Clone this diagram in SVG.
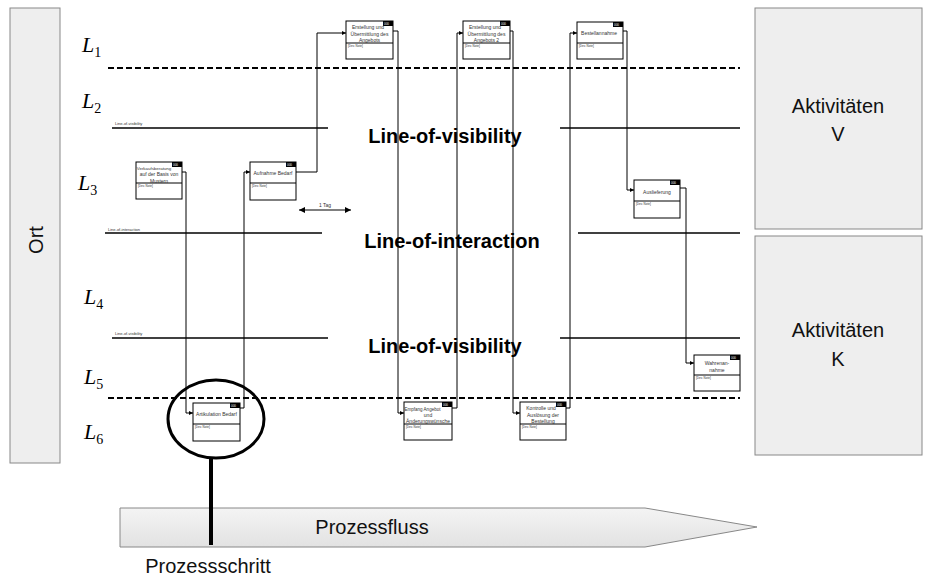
<svg xmlns="http://www.w3.org/2000/svg" width="934" height="585" viewBox="0 0 934 585">
<style>
.panel{fill:#eeeeee;stroke:#888;stroke-width:1}
.big{font-family:"Liberation Sans",Arial,sans-serif;font-size:20px;fill:#111}
.lbl{font-family:"Liberation Sans",Arial,sans-serif;font-size:20px;font-weight:bold;fill:#000}
.tiny{font-family:"Liberation Sans",Arial,sans-serif;font-size:4px;fill:#333}
.L{font-family:"Liberation Serif","Times New Roman",serif;font-size:22px;font-style:italic;fill:#000}
.sub{font-family:"Liberation Serif","Times New Roman",serif;font-size:14px;font-style:normal;fill:#000}
.box{fill:#fff;stroke:#000;stroke-width:1}
.bt{font-family:"Liberation Sans",Arial,sans-serif;font-size:5px;fill:#333;text-anchor:middle}
.note{font-family:"Liberation Sans",Arial,sans-serif;font-size:3px;fill:#333}
.tag{font-family:"Liberation Sans",Arial,sans-serif;font-size:3px;fill:#fff}
.conn{fill:none;stroke:#000;stroke-width:1}
.hl{stroke:#000;stroke-width:1.5}
.dash{stroke:#000;stroke-width:2;stroke-dasharray:6,3}
</style>
<defs>
<marker id="ah" markerWidth="4" markerHeight="4" refX="4" refY="2" orient="auto" markerUnits="userSpaceOnUse">
<path d="M0,0 L4,2 L0,4 z" fill="#000"/>
</marker>
<marker id="ah2" markerWidth="6" markerHeight="6" refX="6" refY="3" orient="auto-start-reverse" markerUnits="userSpaceOnUse">
<path d="M0,0 L6,3 L0,6 z" fill="#000"/>
</marker>
<linearGradient id="fl" x1="0" y1="0" x2="0" y2="1">
<stop offset="0" stop-color="#f4f4f4"/>
<stop offset="1" stop-color="#e2e2e2"/>
</linearGradient>
</defs>

<g id="ort">
<rect class="panel" x="10" y="8" width="50" height="455"/>
<text class="big" transform="translate(43,240) rotate(-90)" text-anchor="middle">Ort</text>
</g>
<g id="aktivitaeten-v">
<rect class="panel" x="755" y="8" width="167" height="221"/>
<text class="big" x="838" y="113" text-anchor="middle">Aktivitäten</text>
<text class="big" x="838" y="141" text-anchor="middle">V</text>
</g>
<g id="aktivitaeten-k">
<rect class="panel" x="755" y="236" width="167" height="219"/>
<text class="big" x="838" y="337" text-anchor="middle">Aktivitäten</text>
<text class="big" x="838" y="366" text-anchor="middle">K</text>
</g>

<g id="levels">
<text class="L" x="82" y="52">L<tspan class="sub" dy="5">1</tspan></text>
<text class="L" x="82" y="108">L<tspan class="sub" dy="5">2</tspan></text>
<text class="L" x="78" y="190">L<tspan class="sub" dy="5">3</tspan></text>
<text class="L" x="84" y="304">L<tspan class="sub" dy="5">4</tspan></text>
<text class="L" x="84" y="384">L<tspan class="sub" dy="5">5</tspan></text>
<text class="L" x="84" y="439">L<tspan class="sub" dy="5">6</tspan></text>
</g>

<g id="lines">
<line class="dash" x1="108" y1="68" x2="740" y2="68"/>
<line class="dash" x1="108" y1="398" x2="740" y2="398"/>
<line class="hl" x1="112" y1="128" x2="328" y2="128"/>
<line class="hl" x1="560" y1="128" x2="740" y2="128"/>
<text class="tiny" x="115" y="125">Line-of-visibility</text>
<text class="lbl" x="445" y="143" text-anchor="middle">Line-of-visibility</text>
<line class="hl" x1="105" y1="233" x2="322" y2="233"/>
<line class="hl" x1="578" y1="233" x2="740" y2="233"/>
<text class="tiny" x="108" y="231">Line-of-interaction</text>
<text class="lbl" x="452" y="248" text-anchor="middle">Line-of-interaction</text>
<line class="hl" x1="112" y1="338" x2="328" y2="338"/>
<line class="hl" x1="560" y1="338" x2="740" y2="338"/>
<text class="tiny" x="115" y="335">Line-of-visibility</text>
<text class="lbl" x="445" y="353" text-anchor="middle">Line-of-visibility</text>
</g>

<g id="prozessfluss">
<polygon points="120,508 645,508 757,527 645,547 120,547" fill="url(#fl)" stroke="#888" stroke-width="1"/>
<text class="big" x="372" y="534" text-anchor="middle">Prozessfluss</text>
</g>

<g id="connectors">
<path class="conn" d="M182,172 H186 V413 H193" marker-end="url(#ah)"/>
<path class="conn" d="M240,408 H244 V172 H250" marker-end="url(#ah)"/>
<path class="conn" d="M296,172 H317 V33 H346" marker-end="url(#ah)"/>
<path class="conn" d="M393,31 H398 V413 H404" marker-end="url(#ah)"/>
<path class="conn" d="M452,408 H457 V33 H463" marker-end="url(#ah)"/>
<path class="conn" d="M510,31 H513 V413 H520" marker-end="url(#ah)"/>
<path class="conn" d="M566,408 H570 V33 H577" marker-end="url(#ah)"/>
<path class="conn" d="M623,31 H627 V190 H634" marker-end="url(#ah)"/>
<path class="conn" d="M680,188 H686 V363 H694" marker-end="url(#ah)"/>
<line class="conn" x1="299" y1="210" x2="351" y2="210" marker-start="url(#ah2)" marker-end="url(#ah2)"/>
<text class="bt" x="325" y="207">1 Tag</text>
</g>

<g id="verkaufsberatung">
<rect class="box" x="136" y="162" width="46" height="37"/>
<line class="conn" x1="136" y1="183" x2="182" y2="183"/>
<rect x="172" y="162" width="10" height="5" fill="#000"/>
<text class="tag" x="173" y="166">000</text>
<text class="bt" x="154" y="169.5" style="font-size:4.4px">Verkaufsberatung</text>
<text class="bt" x="159" y="176">auf der Basis von</text>
<text class="bt" x="159" y="182.5">Mustern</text>
<text class="note" x="138" y="187">[Dev. Note]</text>
</g>
<g id="aufnahme-bedarf">
<rect class="box" x="250" y="162" width="46" height="38"/>
<line class="conn" x1="250" y1="183" x2="296" y2="183"/>
<rect x="286" y="162" width="10" height="5" fill="#000"/>
<text class="tag" x="287" y="166">000</text>
<text class="bt" x="273" y="175">Aufnahme Bedarf</text>
<text class="note" x="252" y="187">[Dev. Note]</text>
</g>
<g id="erstellung-angebot">
<rect class="box" x="346" y="21" width="47" height="38"/>
<line class="conn" x1="346" y1="43" x2="393" y2="43"/>
<rect x="383" y="21" width="10" height="5" fill="#000"/>
<text class="tag" x="384" y="25">000</text>
<text class="bt" x="368" y="29">Erstellung und</text>
<text class="bt" x="369.5" y="35.5">Übermittlung des</text>
<text class="bt" x="369.5" y="42">Angebots</text>
<text class="note" x="348" y="47">[Dev. Note]</text>
</g>
<g id="erstellung-angebot-2">
<rect class="box" x="463" y="21" width="47" height="38"/>
<line class="conn" x1="463" y1="43" x2="510" y2="43"/>
<rect x="500" y="21" width="10" height="5" fill="#000"/>
<text class="tag" x="501" y="25">000</text>
<text class="bt" x="485" y="29">Erstellung und</text>
<text class="bt" x="486.5" y="35.5">Übermittlung des</text>
<text class="bt" x="486.5" y="42">Angebots 2</text>
<text class="note" x="465" y="47">[Dev. Note]</text>
</g>
<g id="bestellannahme">
<rect class="box" x="577" y="22" width="46" height="37"/>
<line class="conn" x1="577" y1="43" x2="623" y2="43"/>
<rect x="613" y="22" width="10" height="5" fill="#000"/>
<text class="tag" x="614" y="26">000</text>
<text class="bt" x="599" y="35">Bestellannahme</text>
<text class="note" x="579" y="47">[Dev. Note]</text>
</g>
<g id="auslieferung">
<rect class="box" x="634" y="180" width="46" height="38"/>
<line class="conn" x1="634" y1="201" x2="680" y2="201"/>
<rect x="670" y="180" width="10" height="5" fill="#000"/>
<text class="tag" x="671" y="184">000</text>
<text class="bt" x="657" y="194">Auslieferung</text>
<text class="note" x="636" y="205">[Dev. Note]</text>
</g>
<g id="wahrenannahme">
<rect class="box" x="694" y="355" width="46" height="36"/>
<line class="conn" x1="694" y1="375" x2="740" y2="375"/>
<rect x="730" y="355" width="10" height="5" fill="#000"/>
<text class="tag" x="731" y="359">000</text>
<text class="bt" x="717" y="365">Wahrenan-</text>
<text class="bt" x="717" y="371.5">nahme</text>
<text class="note" x="696" y="379">[Dev. Note]</text>
</g>
<g id="artikulation-bedarf">
<rect class="box" x="193" y="403" width="47" height="38"/>
<line class="conn" x1="193" y1="424" x2="240" y2="424"/>
<rect x="230" y="403" width="10" height="5" fill="#000"/>
<text class="tag" x="231" y="407">000</text>
<text class="bt" x="216.5" y="416">Artikulation Bedarf</text>
<text class="note" x="195" y="428">[Dev. Note]</text>
</g>
<g id="empfang-angebot">
<rect class="box" x="404" y="402" width="48" height="38"/>
<line class="conn" x1="404" y1="424" x2="452" y2="424"/>
<rect x="442" y="402" width="10" height="5" fill="#000"/>
<text class="tag" x="443" y="406">000</text>
<text class="bt" x="422.5" y="410.5" style="font-size:4.5px">Empfang Angebot</text>
<text class="bt" x="428" y="416.5">und</text>
<text class="bt" x="428" y="423">Änderungswünsche</text>
<text class="note" x="406" y="428">[Dev. Note]</text>
</g>
<g id="kontrolle-bestellung">
<rect class="box" x="520" y="402" width="46" height="38"/>
<line class="conn" x1="520" y1="424" x2="566" y2="424"/>
<rect x="556" y="402" width="10" height="5" fill="#000"/>
<text class="tag" x="557" y="406">000</text>
<text class="bt" x="541" y="410">Kontrolle und</text>
<text class="bt" x="543" y="416.5">Auslösung der</text>
<text class="bt" x="543" y="423">Bestellung</text>
<text class="note" x="522" y="428">[Dev. Note]</text>
</g>

<g id="prozessschritt">
<ellipse cx="216" cy="419" rx="48" ry="39" fill="none" stroke="#000" stroke-width="3"/>
<line x1="211" y1="457" x2="211" y2="545" stroke="#000" stroke-width="4"/>
<text class="big" x="208" y="573" text-anchor="middle">Prozessschritt</text>
</g>
</svg>
